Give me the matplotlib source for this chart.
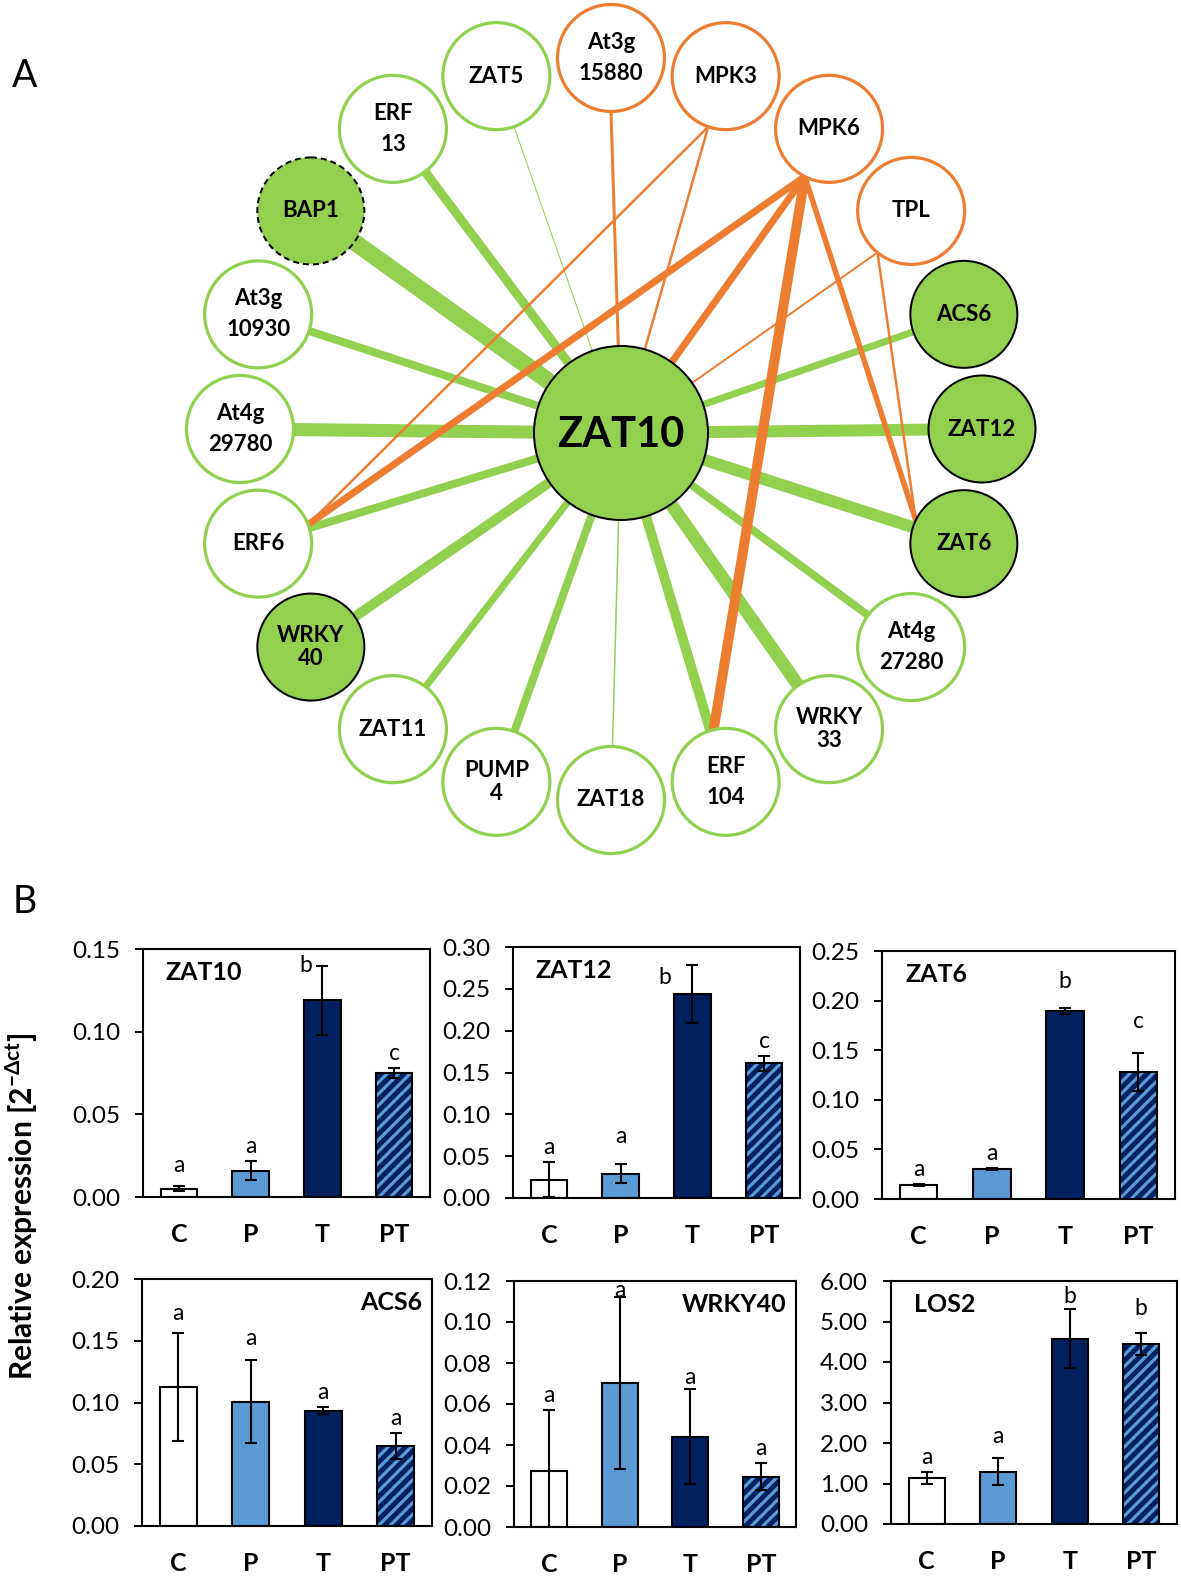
import numpy as np
import matplotlib.pyplot as plt
from matplotlib.patches import Circle
from matplotlib.lines import Line2D
from matplotlib.transforms import IdentityTransform

plt.rcParams['font.family'] = ['Lato', 'DejaVu Sans']

# ---------------- panel A : interaction network ----------------
ring_names = ['At3g\n15880', 'MPK3', 'MPK6', 'TPL', 'ACS6', 'ZAT12', 'ZAT6',
              'At4g\n27280', 'WRKY\n33', 'ERF\n104', 'ZAT18', 'PUMP\n4', 'ZAT11',
              'WRKY\n40', 'ERF6', 'At4g\n29780', 'At3g\n10930', 'BAP1', 'ERF\n13', 'ZAT5']
ring_type = ['orange', 'orange', 'orange', 'orange', 'filled', 'filled', 'filled',
             'open', 'open', 'open', 'open', 'open', 'open',
             'filled', 'open', 'open', 'open', 'dashed', 'open', 'open']
# width of the green ZAT10 link to each ring node (px), 0 = no green link
hub_width = [0, 0, 0, 0, 7, 12, 12, 8, 13, 10, 1.5, 8, 7, 10, 8, 13, 8, 17, 9, 1]
orange_edges = [('At3g\n15880', 'ZAT10', 3), ('MPK3', 'ZAT10', 2.5), ('MPK3', 'ERF6', 2.5),
                ('MPK6', 'ERF6', 7), ('MPK6', 'ZAT10', 7), ('MPK6', 'ERF\n104', 10),
                ('MPK6', 'ZAT6', 5.5), ('TPL', 'ZAT10', 2), ('TPL', 'ZAT6', 2.5)]
hub_name = 'ZAT10'

# ---------------- panel B : qPCR bars ----------------
genes = ['ZAT10', 'ZAT12', 'ZAT6', 'ACS6', 'WRKY40', 'LOS2']
treatments = ['C', 'P', 'T', 'PT']
zat10_mean = [0.005, 0.016, 0.119, 0.075]
zat10_err = [0.0015, 0.0055, 0.021, 0.003]
zat10_sig = ['a', 'a', 'b', 'c']
zat12_mean = [0.022, 0.029, 0.244, 0.161]
zat12_err = [0.021, 0.0115, 0.035, 0.0088]
zat12_sig = ['a', 'a', 'b', 'c']
zat6_mean = [0.0144, 0.0302, 0.1897, 0.1283]
zat6_err = [0.001, 0.001, 0.003, 0.019]
zat6_sig = ['a', 'a', 'b', 'c']
acs6_mean = [0.1124, 0.1008, 0.0935, 0.0649]
acs6_err = [0.0435, 0.0333, 0.003, 0.0105]
acs6_sig = ['a', 'a', 'a', 'a']
wrky40_mean = [0.0271, 0.0704, 0.0441, 0.0246]
wrky40_err = [0.030, 0.042, 0.0232, 0.0065]
wrky40_sig = ['a', 'a', 'a', 'a']
los2_mean = [1.134, 1.29, 4.578, 4.438]
los2_err = [0.156, 0.33, 0.73, 0.27]
los2_sig = ['a', 'a', 'b', 'b']

means = [zat10_mean, zat12_mean, zat6_mean, acs6_mean, wrky40_mean, los2_mean]
errs = [zat10_err, zat12_err, zat6_err, acs6_err, wrky40_err, los2_err]
sigs = [zat10_sig, zat12_sig, zat6_sig, acs6_sig, wrky40_sig, los2_sig]
y_max = [0.15, 0.30, 0.25, 0.20, 0.12, 6.0]
y_step = [0.05, 0.05, 0.05, 0.05, 0.02, 1.0]

# layout (pixels of the 1181x1580 canvas)
W, H = 1181, 1580
PX = 72 / 100  # points per pixel
axes_px = [(143, 949, 430, 1197), (513, 947, 800, 1198), (882, 951, 1175, 1199),
           (142, 1279, 432, 1526), (514, 1281, 796, 1527), (891, 1281, 1177, 1524)]
title_right = [False, False, False, True, True, False]
# letter nudges (dx, dy) in px, dy positive = down
letter_nudge = {(0, 0): (0, -6), (0, 2): (-17, 14), (1, 1): (0, -13), (1, 2): (-28, 27),
                (2, 2): (0, -12), (2, 3): (0, -17), (3, 0): (0, -5), (3, 1): (0, -7),
                (4, 1): (0, 8), (4, 2): (0, 3), (5, 1): (0, -7), (5, 2): (0, 2), (5, 3): (0, -10)}
# where orange links leave a ring node (degrees, counter-clockwise from east)
port_angle = {'At3g\n15880': -90, 'MPK3': -109, 'MPK6': -117, 'TPL': -129,
              'ERF6': 21, 'ZAT6': 154, 'ERF\n104': 103}
bar_face = ['white', '#5B9BD5', '#002060', '#002060']
stripe_col = '#5B9BD5'

fig = plt.figure(figsize=(W / 100, H / 100), dpi=100)

# ---- network
axn = fig.add_axes([0, 0, 1, 1])
axn.set_xlim(0, W)
axn.set_ylim(H, 0)
axn.axis('off')

green = '#92D050'
orange = '#ED7D31'
cx, cy, R, r_node = 611, 429, 371, 53.5
hub_xy = (621, 433)
r_hub = 87

pos = {hub_name: hub_xy}
for i, name in enumerate(ring_names):
    ang = np.deg2rad(90 - 18 * i)
    pos[name] = (cx + R * np.cos(ang), cy - R * np.sin(ang))


def port(name):
    if name in port_angle:
        a = np.deg2rad(port_angle[name])
        return (pos[name][0] + r_node * np.cos(a), pos[name][1] - r_node * np.sin(a))
    return pos[name]


for name, w in zip(ring_names, hub_width):
    if w > 0:
        (x0, y0), (x1, y1) = pos[hub_name], pos[name]
        axn.plot([x0, x1], [y0, y1], color=green, lw=w * PX, solid_capstyle='butt', zorder=1)
for a, b, w in orange_edges:
    (x0, y0), (x1, y1) = port(a), port(b)
    axn.plot([x0, x1], [y0, y1], color=orange, lw=w * PX, solid_capstyle='round', zorder=2)

for name, kind in zip(ring_names, ring_type):
    x, y = pos[name]
    if kind == 'open':
        c = Circle((x, y), r_node, fc='white', ec=green, lw=3.2 * PX, zorder=3)
    elif kind == 'orange':
        c = Circle((x, y), r_node, fc='white', ec=orange, lw=3.2 * PX, zorder=3)
    elif kind == 'filled':
        c = Circle((x, y), r_node, fc=green, ec='black', lw=2 * PX, zorder=3)
    else:
        c = Circle((x, y), r_node, fc=green, ec='black', lw=2 * PX, ls=(0, (3, 2)), zorder=3)
    axn.add_patch(c)
    ls = 1.15 if name.startswith(('WRKY', 'PUMP')) else 1.6
    axn.text(x, y, name, ha='center', va='center', fontsize=16, fontweight='bold',
             linespacing=ls, zorder=4)

axn.add_patch(Circle(hub_xy, r_hub, fc=green, ec='black', lw=2 * PX, zorder=5))
axn.text(hub_xy[0], hub_xy[1] + 2, hub_name, ha='center', va='center', fontsize=30,
         fontweight='bold', zorder=6)

axn.text(25, 76, 'A', ha='center', va='center', fontsize=27)
axn.text(25, 902, 'B', ha='center', va='center', fontsize=27)
axn.text(22, 1206, r'Relative expression [2$^{\mathregular{-\Delta ct}}$]', rotation=90,
         ha='center', va='center', fontsize=21.5, fontweight='bold')

# ---- bar charts
x = np.arange(len(treatments))
bw = 0.51
for k, gene in enumerate(genes):
    l, t, r, b = axes_px[k]
    ax = fig.add_axes([l / W, 1 - b / H, (r - l) / W, (b - t) / H])
    m = np.array(means[k])
    e = np.array(errs[k])
    ax.set_xlim(-0.5, 3.5)
    ax.set_ylim(0, y_max[k])
    bars = ax.bar(x, m, width=bw, color=bar_face, edgecolor='none', zorder=2)
    # light diagonal stripes on the PT bar, drawn in pixel space and clipped to the bar
    rect = bars[3]
    x0d, y0d = ax.transData.transform((x[3] - bw / 2, 0))
    x1d, y1d = ax.transData.transform((x[3] + bw / 2, m[3]))
    hgt = y1d - y0d
    for c0 in np.arange(x0d - hgt - 11, x1d + 11, 11.5):
        ln = Line2D([c0, c0 + hgt + 20], [y0d, y0d + hgt + 20], color=stripe_col,
                    lw=3.2 * PX, transform=IdentityTransform(), zorder=3)
        ax.add_line(ln)
        ln.set_clip_path(rect)
    ax.bar(x, m, width=bw, color='none', edgecolor='black', lw=1.5, zorder=4)
    ax.errorbar(x, m, yerr=e, fmt='none', ecolor='black', elinewidth=1.5, capsize=4.5,
                capthick=1.5, zorder=5)
    for i, s in enumerate(sigs[k]):
        dx, dy = letter_nudge.get((k, i), (0, 0))
        ax.annotate(s, xy=(x[i], m[i] + e[i]), xytext=(dx * PX, (8 - dy) * PX),
                    textcoords='offset points', ha='center', va='baseline', fontsize=16.5,
                    zorder=6)
    ticks = np.arange(0, y_max[k] + y_step[k] / 2, y_step[k])
    ax.set_yticks(ticks)
    ax.set_yticklabels(['{:.2f}'.format(v) for v in ticks], fontsize=17.5)
    ax.set_xticks(x)
    ax.set_xticklabels(treatments, fontsize=18, fontweight='bold')
    ax.tick_params(axis='x', length=0, pad=19)
    ax.tick_params(axis='y', direction='out', length=5.5, width=1.4, pad=11)
    for sp in ax.spines.values():
        sp.set_linewidth(1.5)
    if title_right[k]:
        ax.text(0.965, 0.905, gene, transform=ax.transAxes, ha='right', va='center',
                fontsize=18, fontweight='bold')
    else:
        ax.text(0.08, 0.905, gene, transform=ax.transAxes, ha='left', va='center',
                fontsize=18, fontweight='bold')

fig.savefig('out.png', dpi=100)
